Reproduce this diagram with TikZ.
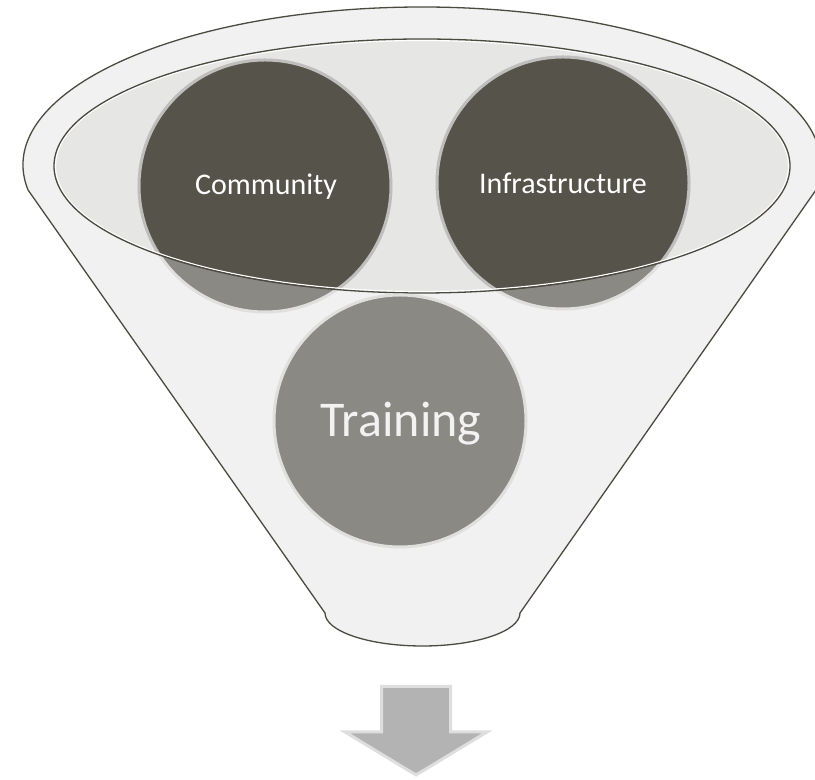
\documentclass[tikz,border=0pt]{standalone}
\usepackage{fontspec}
\setmainfont{Carlito}
\definecolor{funnelfill}{HTML}{F1F1F1}
\definecolor{outline}{HTML}{4C4A40}
\definecolor{rimfill}{HTML}{E6E6E4}
\definecolor{darkc}{HTML}{55534A}
\definecolor{midc}{HTML}{8A8984}
\definecolor{ringc}{HTML}{DFDFDD}
\definecolor{arrowfill}{HTML}{B3B3B3}
\definecolor{arrowedge}{HTML}{DEDEDE}
\definecolor{traintext}{HTML}{F2F2F2}
\tikzset{
  funnelline/.style={draw=outline, line width=1.3bp, line join=round},
  bubble/.style={fill=midc, draw=ringc, line width=3bp},
  smalllabel/.style={text=white, font=\fontsize{30bp}{36bp}\selectfont, anchor=base, inner sep=0pt},
  biglabel/.style={text=traintext, font=\fontsize{50bp}{60bp}\selectfont, anchor=base, inner sep=0pt},
}
\begin{document}
\begin{tikzpicture}[x=1bp,y=1bp]
\useasboundingbox (0,0) rectangle (815,780);
\clip (0,0) rectangle (815,780);
% funnel body
\path[fill=funnelfill, funnelline]
  (422,615) ++(189.1:399 and 158) arc[start angle=189.1, end angle=-9.1, x radius=399, y radius=158]
  -- (520,167) arc[start angle=0, end angle=-180, x radius=97.5, y radius=33]
  -- cycle;
% inner rim
\coordinate (rim) at (422,614);
\fill[rimfill] (rim) ellipse[x radius=368, y radius=127];
% circles
\coordinate (comm) at (265,594);
\coordinate (infra) at (563,597);
\coordinate (train) at (400,359);
\path[bubble] (comm) circle[radius=126];
\path[bubble] (infra) circle[radius=126];
\begin{scope}
  \clip (rim) ellipse[x radius=368, y radius=127];
  \path[fill=darkc, draw=ringc!85!black, line width=3bp] (comm) circle[radius=126];
  \path[fill=darkc, draw=ringc!85!black, line width=3bp] (infra) circle[radius=126];
\end{scope}
\draw[white, line width=1.2bp] (rim) ellipse[x radius=366.5, y radius=125.5];
\draw[outline, line width=1.3bp] (rim) ellipse[x radius=368, y radius=127];
\path[bubble] (train) circle[radius=126];
% labels
\node[smalllabel] (lcomm) at (266,585) {Community};
\node[smalllabel] (linfra) at (563,586) {Infrastructure};
\node[biglabel] (ltrain) at (401,343) {Training};
% arrow
\path[fill=arrowfill, draw=arrowedge, line width=3bp, line join=miter]
  (381.5,93.5) -- (450.5,93.5) -- (450.5,48) -- (487,48) -- (416,5) -- (345,48) -- (381.5,48) -- cycle;
\end{tikzpicture}
\end{document}
